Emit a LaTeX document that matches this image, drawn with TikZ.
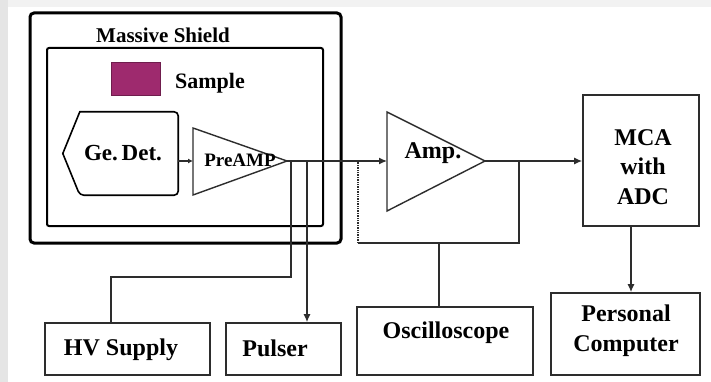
\documentclass[tikz,border=0pt]{standalone}
\usepackage{fontspec}
\setmainfont{Liberation Serif}
\usetikzlibrary{calc, positioning, arrows.meta}
\definecolor{sampcol}{RGB}{158,42,110}
\definecolor{wire}{RGB}{45,45,45}
\tikzset{
  lbl/.style={font=\bfseries\fontsize{24}{30}\selectfont, align=center, inner sep=0pt},
  unit/.style={draw=wire, line width=1.6pt, rectangle, inner sep=0pt},
  amptri/.style={draw=wire, line width=1.4pt, line join=miter},
  wirel/.style={draw=wire, line width=1.4pt}
}
\begin{document}
\begin{tikzpicture}[x=1pt, y=-1pt, >={Latex[length=8pt, width=7pt]}]
  \useasboundingbox (0,0) rectangle (711,382);
  \fill[black!10] (0,0) rectangle (711,382);
  \fill[black!5] (8,0) rectangle (711,7);
  \fill[white] (8,7) rectangle (711,382);

  % shield boxes
  \draw[line width=3pt, rounded corners=4pt] (30,13) rectangle (341,243);
  \node[font=\bfseries\fontsize{21}{24}\selectfont, inner sep=0pt] (shieldlbl) at (163,35) {Massive Shield};
  \draw[line width=2pt, rounded corners=2pt] (47,48) rectangle (323,226);
  \node[fill=sampcol, draw=sampcol!70!black, line width=0.8pt, minimum width=49pt, minimum height=33pt,
    inner sep=0pt] (samp) at (135.5,78.5) {};
  \node[lbl, font=\bfseries\fontsize{22}{26}\selectfont] (samplbl) at (210,83) {Sample};

  % detector
  \node[minimum width=115pt, minimum height=83pt, inner sep=0pt] (ge) at (120.5,153.5) {};
  \draw[line width=1.6pt, rounded corners=4pt] ($(ge.north west)+(17,0)$) -- (ge.north east)
    -- (ge.south east) -- ($(ge.south west)+(17,0)$) [sharp corners]-- (ge.west) -- cycle;
  \node[lbl, font=\bfseries\fontsize{23}{26}\selectfont] (gelbl) at (123,153) {Ge.\,Det.};

  % amplifiers
  \coordinate (preL) at (193,161);
  \coordinate (preA) at (287,161);
  \draw[amptri] (193,128) -- (preA) -- (193,195) -- cycle;
  \node[lbl, font=\bfseries\fontsize{19}{22}\selectfont] (prelbl) at (240,160) {PreAMP};
  \coordinate (ampL) at (387,161);
  \coordinate (ampA) at (485,161);
  \draw[amptri] (387,112) -- (ampA) -- (387,211) -- cycle;
  \node[lbl] (amplbl) at (433,153) {Amp.};

  % units
  \node[unit, minimum width=116pt, minimum height=131pt] (mca) at (641,160.5) {};
  \node[lbl, align=center] (mcalbl) at (643,167) {MCA\\[-0.5pt]with\\[-0.5pt]ADC};
  \node[unit, minimum width=165pt, minimum height=52pt] (hv) at (127.5,349) {};
  \node[lbl] (hvlbl) at (121,350) {HV Supply};
  \node[unit, minimum width=115pt, minimum height=52pt] (pu) at (283.5,349) {};
  \node[lbl] (pulbl) at (275,348) {Pulser};
  \node[unit, minimum width=176pt, minimum height=68pt] (osc) at (445,341) {};
  \node[lbl] (osclbl) at (446,333) {Oscilloscope};
  \node[unit, minimum width=149pt, minimum height=82pt] (pc) at (625.5,334) {};
  \node[lbl] (pclbl) at (626,331) {Personal\\Computer};

  % taps and bends
  \coordinate (tapA) at (291,161);
  \coordinate (tapB) at (307,161);
  \coordinate (tapC) at (519,161);
  \coordinate (hvbend) at (111,277);
  \coordinate (scbend) at (358,243);
  \coordinate (scjoin) at (439,243);

  % signal chain
  \draw[wirel, ->, >={Latex[length=5pt, width=5pt]}] (ge.east |- preL) -- (preL);
  \draw[wirel, ->] (preA) -- (ampL);
  \draw[wirel, ->] (ampA) -- (ampA -| mca.west);
  \draw[wirel, ->] (mca.south -| 631,0) -- (pc.north -| 631,0);

  % supply, pulser, scope
  \draw[wirel] (tapA) |- (hvbend) -- (hvbend |- hv.north);
  \draw[wirel, ->] (tapB) -- (tapB |- pu.north);
  \draw[wirel] (tapC) |- (scbend);
  \draw[wirel, densely dotted] (scbend) -- (scbend |- tapA);
  \draw[wirel] (scjoin) -- (scjoin |- osc.north);
\end{tikzpicture}
\end{document}
